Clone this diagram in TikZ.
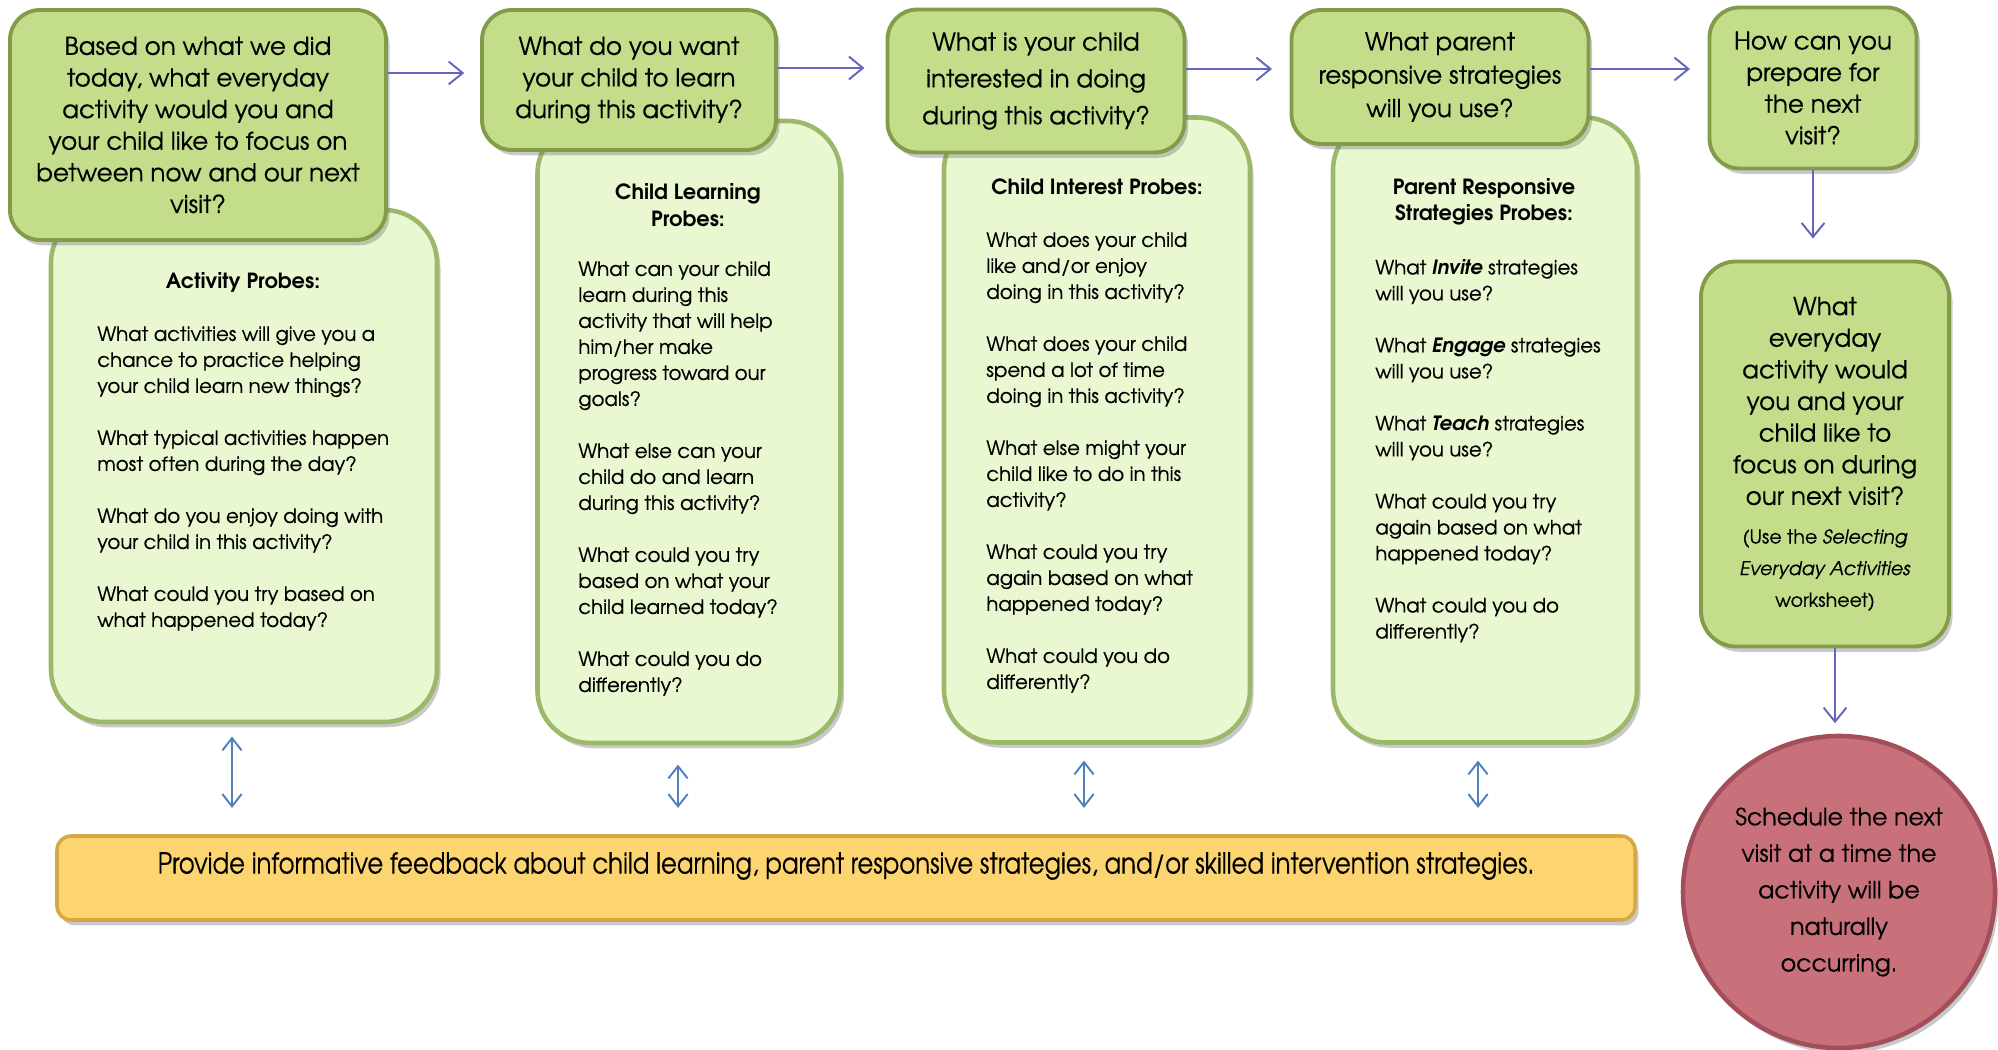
\documentclass[tikz,border=0pt]{standalone}
\usepackage{fontspec}
\setmainfont{TeX Gyre Adventor}[UprightFeatures={FakeBold=0.35}, ItalicFeatures={FakeBold=0.35}]
\newfontfamily\barfont[FakeStretch=0.84, FakeBold=0.35]{TeX Gyre Adventor}
\usetikzlibrary{arrows.meta,shadows}

% one unit of the drawing grid
\newlength\pxu
\setlength\pxu{0.02cm}
\newcommand\notesize{\fontsize{10.8}{15.5}\selectfont}

\definecolor{topfill}{HTML}{C4DD8B}
\definecolor{topedge}{HTML}{829C4A}
\definecolor{probefill}{HTML}{EAF8D2}
\definecolor{probeedge}{HTML}{9CB86A}
\definecolor{barfill}{HTML}{FCD571}
\definecolor{baredge}{HTML}{D6A845}
\definecolor{ballfill}{HTML}{C8717A}
\definecolor{balledge}{HTML}{A24F5B}
\definecolor{flowblue}{HTML}{6666BE}
\definecolor{linkblue}{HTML}{4F81BD}

\tikzset{
  softshadow/.style={drop shadow={opacity=0.35, fill=black!60, shadow xshift=2pt, shadow yshift=-3pt}},
  topbox/.style={draw=topedge, line width=2.2pt, fill=topfill, rounded corners=17pt,
    align=center, inner sep=0pt, softshadow,
    font=\fontsize{14}{18}\selectfont},
  probebox/.style={draw=probeedge, line width=2.6pt, fill=probefill, rounded corners=30pt,
    inner sep=0pt, softshadow},
  probetitle/.style={align=center, inner sep=0pt, font=\fontsize{11.9}{15}\selectfont\bfseries},
  probebody/.style={align=left, anchor=north west, inner sep=0pt, font=\fontsize{11.2}{14.8}\selectfont},
  flow/.style={draw=flowblue, line width=1.1pt, -{Straight Barb[length=8pt,width=13pt,line width=1.1pt]}},
  link/.style={draw=linkblue, line width=1.1pt,
    {Straight Barb[length=7pt,width=11pt,line width=1.1pt]}-{Straight Barb[length=7pt,width=11pt,line width=1.1pt]}}
}

\begin{document}
\begin{tikzpicture}[x=0.02cm, y=-0.02cm]
\fill[white] (0,0) rectangle (1998,1050);
\useasboundingbox (0,0) rectangle (1998,1050);

% probe panels (behind the question boxes)
\node[probebox, minimum width=386\pxu, minimum height=512\pxu] (P1) at (244,466) {};
\node[probebox, minimum width=303\pxu, minimum height=622\pxu] (P2) at (689,432) {};
\node[probebox, minimum width=306\pxu, minimum height=625\pxu] (P3) at (1097,430) {};
\node[probebox, minimum width=304\pxu, minimum height=625\pxu] (P4) at (1485,430) {};

% probe texts
\node[probetitle] (P1t) at (243,282) {Activity Probes:};
\node[probebody] (P1b) at (97,326) {What activities will give you a\\chance to practice helping\\your child learn new things?\\[14.8pt]
What typical activities happen\\most often during the day?\\[14.8pt]
What do you enjoy doing with\\your child in this activity?\\[14.8pt]
What could you try based on\\what happened today?};

\node[probetitle] (P2t) at (688,205) {Child Learning\\Probes:};
\node[probebody] (P2b) at (578,261) {What can your child\\learn during this\\activity that will help\\him/her make\\progress toward our\\goals?\\[14.8pt]
What else can your\\child do and learn\\during this activity?\\[14.8pt]
What could you try\\based on what your\\child learned today?\\[14.8pt]
What could you do\\differently?};

\node[probetitle] (P3t) at (1097,187) {Child Interest Probes:};
\node[probebody] (P3b) at (986,232) {What does your child\\like and/or enjoy\\doing in this activity?\\[14.8pt]
What does your child\\spend a lot of time\\doing in this activity?\\[14.8pt]
What else might your\\child like to do in this\\activity?\\[14.8pt]
What could you try\\again based on what\\happened today?\\[14.8pt]
What could you do\\differently?};

\node[probetitle] (P4t) at (1484,202) {Parent Responsive\\Strategies Probes:};
\node[probebody] (P4b) at (1375,259) {What \textbf{\textit{Invite}} strategies\\will you use?\\[14.8pt]
What \textbf{\textit{Engage}} strategies\\will you use?\\[14.8pt]
What \textbf{\textit{Teach}} strategies\\will you use?\\[14.8pt]
What could you try\\again based on what\\happened today?\\[14.8pt]
What could you do\\differently?};

% question boxes
\node[topbox, minimum width=376\pxu, minimum height=230\pxu] (T1) at (198,125)
  {Based on what we did\\today, what everyday\\activity would you and\\your child like to focus on\\between now and our next\\visit?};
\node[topbox, minimum width=294\pxu, minimum height=140\pxu] (T2) at (629,80)
  {What do you want\\your child to learn\\during this activity?};
\node[topbox, minimum width=297\pxu, minimum height=143\pxu, font=\fontsize{14}{21}\selectfont] (T3) at (1036,81)
  {What is your child\\interested in doing\\during this activity?};
\node[topbox, minimum width=297\pxu, minimum height=134\pxu, font=\fontsize{14}{19}\selectfont] (T4) at (1440,77)
  {What parent\\responsive strategies\\will you use?};
\node[topbox, minimum width=207\pxu, minimum height=161\pxu] (T5) at (1813,88)
  {How can you\\prepare for\\the next\\visit?};
\node[topbox, rounded corners=20pt, minimum width=248\pxu, minimum height=385\pxu] (T6) at (1825,454)
  {What\\everyday\\activity would\\you and your\\child like to\\focus on during\\our next visit?\\[4pt]
   \notesize (Use the \textit{Selecting}\\\notesize\textit{Everyday Activities}\\\notesize worksheet)};

% closing step
\node[circle, draw=balledge, line width=2.6pt, fill=ballfill, softshadow, minimum size=312\pxu,
  align=center, inner sep=0pt, font=\fontsize{13.5}{20.8}\selectfont] (C) at (1839,892)
  {Schedule the next\\visit at a time the\\activity will be\\naturally\\occurring.};

% feedback bar
\node[draw=baredge, line width=2pt, fill=barfill, rounded corners=8pt, softshadow,
  minimum width=1578\pxu, minimum height=84\pxu, inner sep=0pt] (Bar) at (846,878) {};
\node[inner sep=0pt, font=\barfont\fontsize{16.5}{20}\selectfont] (BarT) at (846,866)
  {Provide informative feedback about child learning, parent responsive strategies, and/or skilled intervention strategies.};

% flow between the questions
\coordinate (r1) at (0,73);
\coordinate (r2) at (0,68);
\coordinate (r3) at (0,69);
\draw[flow, shorten >=9pt] (T1.east |- r1) -- (T2.west |- r1);
\draw[flow, shorten >=12pt] (T2.east |- r2) -- (T3.west |- r2);
\draw[flow, shorten >=10pt] (T3.east |- r3) -- (T4.west |- r3);
\draw[flow, shorten >=10pt] (T4.east |- r3) -- (T5.west |- r3);
\draw[flow, shorten >=12pt] (T5.south) -- (T6.north -| T5.south);
\coordinate (c6) at (1835,0);
\draw[flow, shorten >=6pt] (T6.south -| c6) -- (C.north -| c6);

% links between the probe panels and the feedback bar
\coordinate (d1) at (232,0);
\coordinate (d2) at (678,0);
\coordinate (d3) at (1084,0);
\coordinate (d4) at (1478,0);
\draw[link, shorten <=7pt, shorten >=15pt] (P1.south -| d1) -- (Bar.north -| d1);
\draw[link, shorten <=11pt, shorten >=15pt] (P2.south -| d2) -- (Bar.north -| d2);
\draw[link, shorten <=9pt, shorten >=15pt] (P3.south -| d3) -- (Bar.north -| d3);
\draw[link, shorten <=9pt, shorten >=15pt] (P4.south -| d4) -- (Bar.north -| d4);
\end{tikzpicture}
\end{document}
